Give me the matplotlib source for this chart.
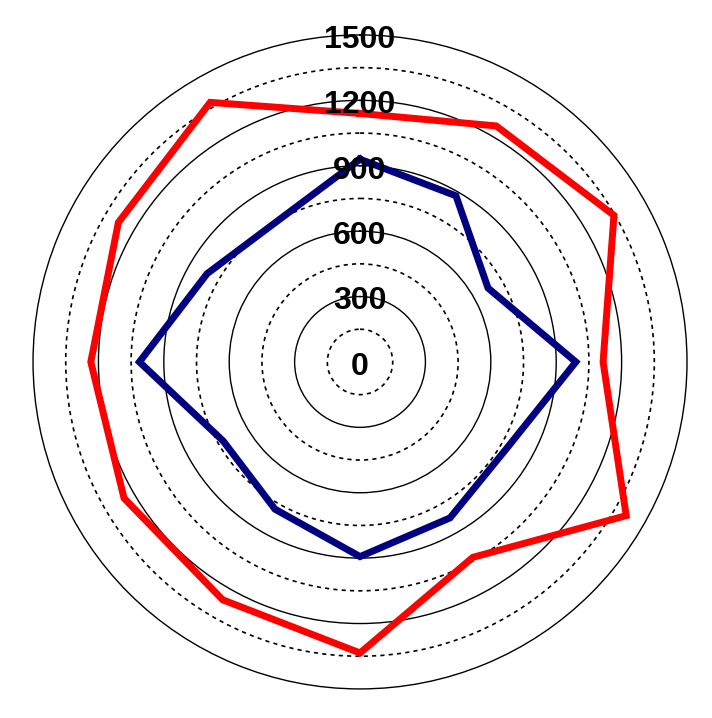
import numpy as np
import matplotlib
matplotlib.use("Agg")
import matplotlib.pyplot as plt

# data: 12 directions, 30 degrees apart, clockwise from north
angles_deg = [0, 30, 60, 90, 120, 150, 180, 210, 240, 270, 300, 330]
red_values = [1140, 1250, 1345, 1115, 1410, 1035, 1335, 1260, 1250, 1235, 1280, 1375]
blue_values = [930, 880, 678, 990, 782, 826, 893, 780, 725, 1012, 810, 750]
tick_values = [0, 300, 600, 900, 1200, 1500]
r_max = 1500

fig = plt.figure(figsize=(7.12, 7.18), dpi=100)
ax = fig.add_axes([0.0464, 0.0404, 0.9185, 0.911], projection="polar")
ax.set_theta_zero_location("N")
ax.set_theta_direction(-1)
ax.set_ylim(0, r_max)

theta = np.deg2rad(angles_deg + [angles_deg[0]])
ax.plot(theta, red_values + [red_values[0]], color="#ff0000", lw=5,
        solid_joinstyle="miter", zorder=3)
ax.plot(theta, blue_values + [blue_values[0]], color="#000080", lw=5,
        solid_joinstyle="miter", zorder=3)

# radial grid: solid at label values, dashed halfway between
grid_r = np.arange(150, r_max, 150)
ax.set_yticks(grid_r)
ax.set_yticklabels([])
ax.set_xticks([])
ax.xaxis.grid(False)
ax.yaxis.grid(True)
for r, gl in zip(grid_r, ax.yaxis.get_gridlines()):
    gl.set_color("black")
    if int(round(r)) % 300 == 0:
        gl.set_linestyle("-")
        gl.set_linewidth(1.0)
    else:
        gl.set_linestyle((0, (2.5, 2.5)))
        gl.set_linewidth(1.2)
ax.spines["polar"].set_color("black")
ax.spines["polar"].set_linewidth(1.0)

for v in tick_values:
    ax.annotate(str(v), xy=(0, v), xytext=(0, -3.5), textcoords="offset points",
                ha="center", va="center", fontsize=23,
                fontweight="bold", family="Liberation Sans", color="black", zorder=4)

fig.savefig("out.png", dpi=100)
